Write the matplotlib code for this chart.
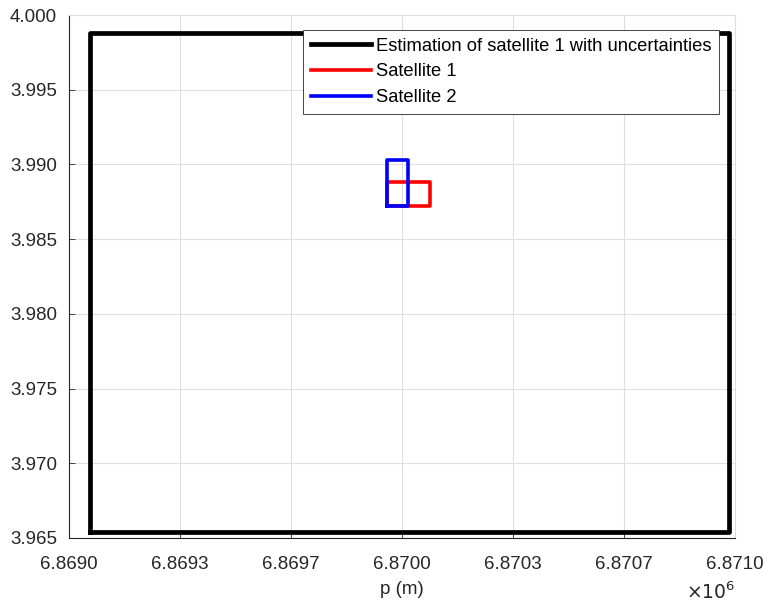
import numpy as np
import matplotlib
matplotlib.use("Agg")
import matplotlib.pyplot as plt
from matplotlib.ticker import FixedLocator

plt.rcParams['font.family'] = ['Liberation Sans', 'DejaVu Sans']

# Box corners (p in metres, second coordinate as plotted)
est_p = [6869062, 6870982]
est_q = [3.96540, 3.99880]
sat1_p = [6869956, 6870083]
sat1_q = [3.98720, 3.98880]
sat2_p = [6869956, 6870019]
sat2_q = [3.98720, 3.99030]

x_ticks = [6.869e6 + k * 2000 / 6 for k in range(7)]
x_labels = ['6.8690', '6.8693', '6.8697', '6.8700', '6.8703', '6.8707', '6.8710']
y_ticks = [3.965, 3.970, 3.975, 3.980, 3.985, 3.990, 3.995, 4.000]
y_labels = ['3.965', '3.970', '3.975', '3.980', '3.985', '3.990', '3.995', '4.000']

FS = 13.5
INK = '#262626'


def box(p, q):
    xs = [p[0], p[1], p[1], p[0], p[0]]
    ys = [q[0], q[0], q[1], q[1], q[0]]
    return xs, ys


fig = plt.figure(figsize=(7.68, 6.03), dpi=100)
ax = fig.add_axes([69 / 768, 1 - 538 / 603, 666 / 768, 523 / 603])

ax.plot(*box(est_p, est_q), color='black', lw=3.4,
        label='Estimation of satellite 1 with uncertainties')
ax.plot(*box(sat1_p, sat1_q), color='red', lw=2.6, label='Satellite 1')
ax.plot(*box(sat2_p, sat2_q), color='blue', lw=2.6, label='Satellite 2')

ax.set_xlim(6.869e6, 6.871e6)
ax.set_ylim(3.965, 4.000)
ax.xaxis.set_major_locator(FixedLocator(x_ticks))
ax.set_xticklabels(x_labels)
ax.yaxis.set_major_locator(FixedLocator(y_ticks))
ax.set_yticklabels(y_labels)

ax.grid(True, color='#dfdfdf', lw=0.8)
ax.set_axisbelow(True)
for side in ['top', 'right']:
    ax.spines[side].set_color('#dfdfdf')
for side in ['left', 'bottom']:
    ax.spines[side].set_color(INK)
    ax.spines[side].set_linewidth(0.8)
ax.tick_params(direction='in', length=4, width=0.6, colors=INK,
               labelsize=FS, labelcolor=INK)
ax.tick_params(axis='x', pad=13)
ax.tick_params(axis='y', pad=8.5)

ax.set_xlabel('p (m)', fontsize=FS, color=INK, labelpad=6)
fig.text(735 / 768, 1 - 599 / 603, r'$\times10^{6}$', fontsize=FS,
         color=INK, va='baseline', ha='right')

leg = ax.legend(loc='upper right', bbox_to_anchor=(0.9764, 0.971),
                fontsize=13.2, fancybox=False, framealpha=1,
                edgecolor=INK, borderpad=0.42, labelspacing=0.47,
                handlelength=3.27, handletextpad=0.29, borderaxespad=0)
leg.get_frame().set_linewidth(0.6)

fig.savefig('out.png', dpi=100)
